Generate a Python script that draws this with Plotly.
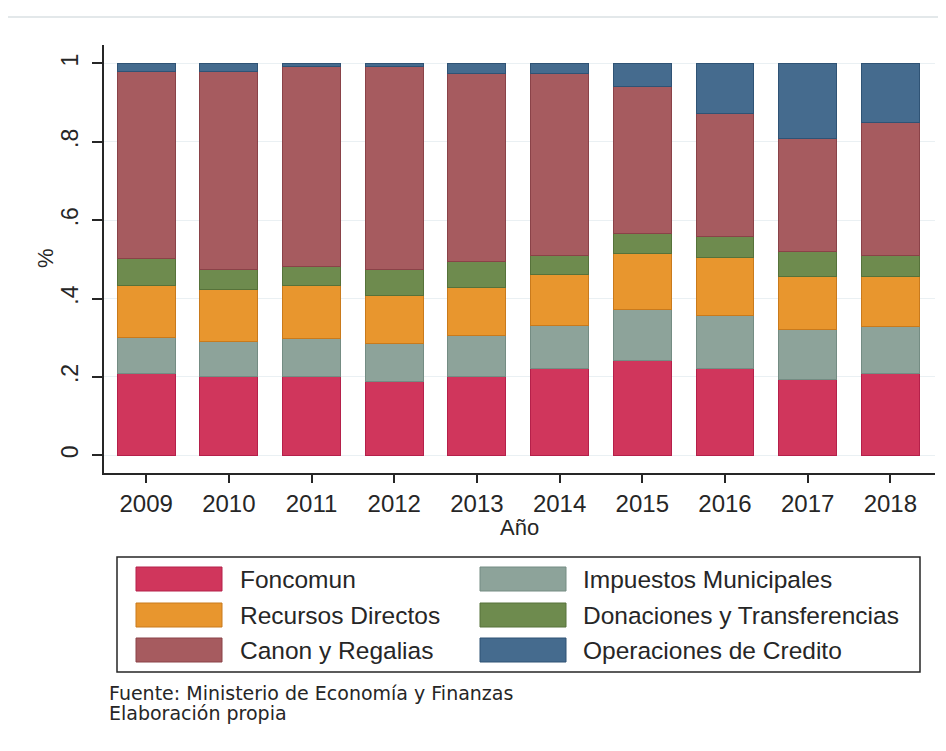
import plotly.graph_objects as go

years = [2009, 2010, 2011, 2012, 2013, 2014, 2015, 2016, 2017, 2018]
foncomun = [0.210, 0.200, 0.200, 0.189, 0.200, 0.221, 0.242, 0.221, 0.193, 0.210]
impuestos = [0.091, 0.091, 0.097, 0.097, 0.106, 0.110, 0.131, 0.136, 0.127, 0.119]
recursos = [0.132, 0.133, 0.136, 0.121, 0.123, 0.130, 0.143, 0.148, 0.136, 0.127]
donaciones = [0.070, 0.049, 0.049, 0.066, 0.065, 0.050, 0.051, 0.053, 0.064, 0.053]
canon = [0.476, 0.506, 0.509, 0.518, 0.481, 0.464, 0.375, 0.313, 0.289, 0.340]
operaciones = [0.021, 0.021, 0.009, 0.009, 0.025, 0.025, 0.058, 0.129, 0.191, 0.151]

y_ticks = [0, 0.2, 0.4, 0.6, 0.8, 1]
y_tick_labels = ["0", ".2", ".4", ".6", ".8", "1"]

series = [
    ("Foncomun", foncomun, "#D0365C", "#B5204A"),
    ("Impuestos Municipales", impuestos, "#8DA39A", "#748C83"),
    ("Recursos Directos", recursos, "#E8962E", "#C97A1C"),
    ("Donaciones y Transferencias", donaciones, "#6E8B4E", "#56723A"),
    ("Canon y Regalias", canon, "#A65B5F", "#8A4248"),
    ("Operaciones de Credito", operaciones, "#456B8E", "#2F5375"),
]

OFF = 8  # browser body margin
PW, PH = 946, 751
W, H = PW - 2 * OFF, PH - 2 * OFF
# plot area in page pixels
L, R, T, B = 104, 935, 45, 473
FONT = "Liberation Sans, Arial, sans-serif"
FOOT_FONT = "DejaVu Sans, Verdana, sans-serif"
INK = "#262626"

def px(x):
    return (x - L) / (R - L)

def py(y):
    return (B - y) / (B - T)

fig = go.Figure()
for name, vals, col, edge in series:
    fig.add_trace(go.Bar(
        x=years, y=vals, name=name,
        marker=dict(color=col, line=dict(color=edge, width=1)),
        width=0.70, showlegend=False,
    ))

fig.update_layout(
    barmode="stack",
    width=W, height=H,
    margin=dict(l=L - OFF, r=PW - OFF - R, t=T - OFF, b=PH - OFF - B),
    paper_bgcolor="white", plot_bgcolor="white",
    font=dict(family=FONT, size=24, color=INK),
    xaxis=dict(
        range=[2008.49, 2018.54], tickmode="array", tickvals=years,
        ticktext=[str(y) for y in years],
        showline=True, linecolor=INK, linewidth=2,
        ticks="outside", ticklen=8, tickwidth=2, tickcolor=INK,
        showgrid=False, zeroline=False,
        tickfont=dict(size=24, family=FONT, color=INK),
    ),
    yaxis=dict(
        range=[-0.045, 1.047], tickmode="array", tickvals=y_ticks,
        ticktext=y_tick_labels, tickangle=-90, ticklabelstandoff=5,
        showline=True, linecolor=INK, linewidth=2,
        ticks="outside", ticklen=10, tickwidth=2, tickcolor=INK,
        showgrid=True, gridcolor="#EAF0F3", gridwidth=1, zeroline=False,
        tickfont=dict(size=23, family=FONT, color=INK),
    ),
)

# axis titles
fig.add_annotation(text="Año", xref="paper", yref="paper", x=px(519), y=py(527),
                   showarrow=False, font=dict(size=22, family=FONT, color=INK),
                   xanchor="center", yanchor="middle")
fig.add_annotation(text="%", xref="paper", yref="paper", x=px(45), y=py(258),
                   showarrow=False, textangle=-90,
                   font=dict(size=22, family=FONT, color=INK),
                   xanchor="center", yanchor="middle")

# top thin line
fig.add_shape(type="line", xref="paper", yref="paper", x0=px(5), x1=px(946),
              y0=py(17), y1=py(17), line=dict(color="#E3E8EA", width=2))

# custom legend
fig.add_shape(type="rect", xref="paper", yref="paper", x0=px(117), x1=px(920),
              y0=py(557), y1=py(672), line=dict(color=INK, width=1.5),
              fillcolor="white")
row_tops = [567, 603, 638]
col_x = [(136, 222, 238), (480, 566, 581)]
placement = {0: (0, 0), 2: (0, 1), 4: (0, 2), 1: (1, 0), 3: (1, 1), 5: (1, 2)}
for idx, (name, vals, col, edge) in enumerate(series):
    c, r = placement[idx]
    x0, x1, tx = col_x[c]
    y0 = row_tops[r]
    fig.add_shape(type="rect", xref="paper", yref="paper", x0=px(x0), x1=px(x1),
                  y0=py(y0), y1=py(y0 + 24), fillcolor=col,
                  line=dict(color=edge, width=1))
    fig.add_annotation(text=name, xref="paper", yref="paper", x=px(tx), y=py(y0 + 12),
                       showarrow=False, xanchor="left", yanchor="middle",
                       font=dict(size=24.5, family=FONT, color=INK))

fig.add_annotation(text="Fuente: Ministerio de Economía y Finanzas", xref="paper", yref="paper",
                   x=px(107), y=py(693), showarrow=False, xanchor="left", yanchor="middle",
                   font=dict(size=19, family=FOOT_FONT, color=INK))
fig.add_annotation(text="Elaboración propia", xref="paper", yref="paper",
                   x=px(107), y=py(713), showarrow=False, xanchor="left", yanchor="middle",
                   font=dict(size=19, family=FOOT_FONT, color=INK))

fig.write_html("out.html")
